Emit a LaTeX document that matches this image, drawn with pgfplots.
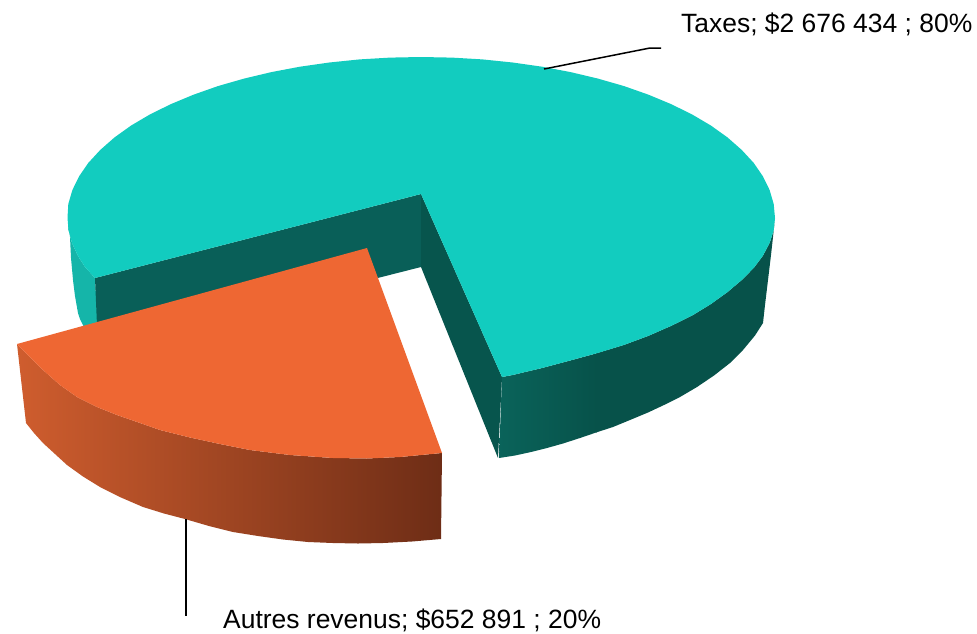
\documentclass[border=0pt]{standalone}
\usepackage{pgfplots}
\pgfplotsset{compat=1.18}
\usepackage{fontspec}
\setmainfont{Liberation Sans}
\definecolor{tealtop}{HTML}{12CCBF}
\definecolor{tealleft}{HTML}{15B5A9}
\definecolor{tealinner}{HTML}{095F58}
\definecolor{tealwedge}{HTML}{07554D}
\definecolor{tealwall}{HTML}{07524A}
\definecolor{tealwallL}{HTML}{0A635A}
\definecolor{orangetop}{HTML}{EE6733}
\definecolor{orangeL}{HTML}{CF5D2E}
\definecolor{orangeR}{HTML}{6E2D16}
\begin{document}
\begin{tikzpicture}
\begin{axis}[
  width=977pt, height=633pt, scale only axis,
  xmin=0, xmax=977, ymin=0, ymax=633, y dir=reverse,
  hide axis, clip=false,
]
\path[use as bounding box] (axis cs:0,0) rectangle (axis cs:977,633);
% left outer wall of the large slice
\addplot[fill=tealleft, draw=none, forget plot] coordinates {
 (68,213) (68.5,230) (72,243) (78,256) (85,267) (95,278) (98,330) (85,330) (83,325) (80,319) (78,313) (75,296) (73,280) (71,258) (70,237)} --cycle;
% inner wall, left part
\addplot[fill=tealinner, draw=none, forget plot] coordinates {
 (95,278) (421,194) (421,267) (98,349)} --cycle;
% inner wall, right part
\addplot[fill=tealwedge, draw=none, forget plot] coordinates {
 (421,194) (502,377) (498,458) (421,267)} --cycle;
% outer wall, right
\addplot[fill=tealwall, draw=none, forget plot] coordinates {
 (596,353.4) (624.1,344.9) (648.5,335.8) (671.3,325.8) (692.2,315.5) (711,304) (727.6,292) (741.8,280) (753.7,268) (762.9,255.7) (769.6,243) (773.7,230.5) (775,218)
 (773,237) (771,255) (768,280) (765,305) (763,323) (755,335.5) (743,350) (730,363) (714,375.5) (697,387) (680,397) (664,405) (648,412.5) (630,420) (613,427) (596,432.5)} --cycle;
\addplot[left color=tealwallL, right color=tealwall, draw=none, forget plot] coordinates {
 (502,377) (512.6,375) (542.1,368) (570.6,360.4) (597,353.2) (597,432.2) (580,438) (563,443.5) (547,448) (531,452) (515,455.5) (499,458)} --cycle;
% top face of the large slice
\addplot[fill=tealtop, draw=none, forget plot] coordinates {
 (95,278) (85,267) (78,256) (72,243) (68.5,230) (67.5,218) (68.3,204) (72.4,190) (79.1,176.3) (88.3,162.9) (100.2,150) (114.4,137.5) (131,125.6) (149.8,114.5) (170.7,104.2) (193.5,94.7) (217.9,86.1) (244,78.6) (271.4,72.1) (299.9,66.7) (329.4,62.5) (359.5,59.4) (390.1,57.6) (421,57)
 (451.9,57.6) (482.5,59.4) (512.6,62.5) (542.1,66.7) (570.6,72.1) (598,78.6) (624.1,86.1) (648.5,94.7) (671.3,104.2) (692.2,114.5) (711,125.6) (727.6,137.5) (741.8,150) (753.7,162.9) (762.9,176.3) (769.6,190) (773.7,204) (775,218)
 (773.7,230.5) (769.6,243) (762.9,255.7) (753.7,268) (741.8,280) (727.6,292) (711,304) (692.2,315.5) (671.3,325.8) (648.5,335.8) (624.1,344.9) (598,352.9) (570.6,360.4) (542.1,368) (512.6,375) (502,377)
 (421,194)} --cycle;
% small slice, outer wall
\addplot[left color=orangeL, right color=orangeR, draw=none, forget plot] coordinates {
 (17,344) (23,350) (30,357) (43,370) (60,385) (77,397) (97,407) (117,415) (140,423) (160,430) (190,437.5) (220,444) (250,450) (290,455) (333,458) (367,458.5) (400,457) (442,453)
 (441,539) (412,541.5) (383,543) (358,543.5) (333,543) (308,542) (283,539.5) (258,536) (233,532) (209,526) (185,519) (164,513.5) (143,507) (121,497.5) (100,487) (83,476.5) (67,465) (55,454) (43,443) (34,433) (26,423)} --cycle;
% small slice, top face
\addplot[fill=orangetop, draw=none, forget plot] coordinates {
 (17,344) (367,248) (442,453) (400,457) (367,458.5) (333,458) (290,455) (250,450) (220,444) (190,437.5) (160,430) (140,423) (117,415) (97,407) (77,397) (60,385) (43,370) (30,357) (23,350)} --cycle;
% leader lines
\addplot[black, line width=1.5pt, forget plot] coordinates {(544,69) (650,48) (661,48)};
\addplot[black, line width=1.5pt, forget plot] coordinates {(186,519) (186,616)};
\node[anchor=base west, inner sep=0pt, font=\fontsize{26.45}{30}\selectfont] at (axis cs:681,32) {Taxes; \$2 676 434 ; 80\%};
\node[anchor=base west, inner sep=0pt, font=\fontsize{26.45}{30}\selectfont] at (axis cs:223,628) {Autres revenus; \$652 891 ; 20\%};
\end{axis}
\end{tikzpicture}
\end{document}
